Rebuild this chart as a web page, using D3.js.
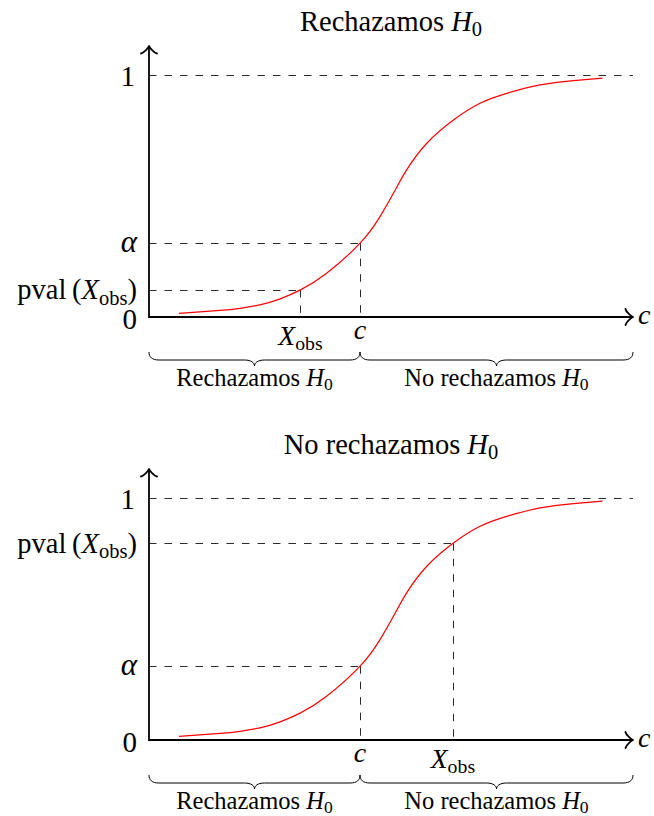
<!DOCTYPE html>
<html>
<head>
<meta charset="utf-8">
<script src="https://cdn.jsdelivr.net/npm/d3@7"></script>
<style>
  body { margin: 0; background: #fff; }
  svg text { font-family: 'Liberation Serif', 'Times New Roman', serif; fill: #000; }
</style>
</head>
<body>
<div id="chart"></div>
<script>
// curve points (x in axis units, y as probability)
const curveX = [0.62, 1.47, 1.88, 2.29, 2.71, 3.13, 3.67, 4.36, 4.77, 5.05, 5.32, 5.74, 6.29, 6.84, 7.39, 8.08, 8.77, 9.37];
const curveY = [0.015, 0.027, 0.036, 0.050, 0.075, 0.112, 0.181, 0.305, 0.414, 0.511, 0.607, 0.718, 0.814, 0.883, 0.924, 0.959, 0.977, 0.987];

const panelTitles = ['Rechazamos', 'No rechazamos'];
const regionLabels = ['Rechazamos', 'No rechazamos'];
const cValue = 4.36;
const alphaValue = 0.305;
const xObsValues = [3.13, 6.28];
const pvalValues = [0.112, 0.813];
const xDomain = [0, 10];
const yDomain = [0, 1];

const width = 654;
const height = 816;
const panelOffset = 423;

const $svg = d3.select('#chart').append('svg')
    .attr('width', width)
    .attr('height', height);

// scales (same for both panels, panels are shifted down)
const scaleX = d3.scaleLinear().domain(xDomain).range([149, 633]);
const scaleY = d3.scaleLinear().domain(yDomain).range([317, 75]);

const points = curveX.map((x, i) => ({ x, y: curveY[i] }));
const line = d3.line()
    .x(d => scaleX(d.x))
    .y(d => scaleY(d.y))
    .curve(d3.curveNatural);

// tikz style "to" arrow tip, drawn pointing along angle (deg)
function arrowTip(tx, ty, angle) {
    const u = 2;
    const a = angle * Math.PI / 180;
    const rot = (px, py) => [tx + px * Math.cos(a) - py * Math.sin(a), ty + px * Math.sin(a) + py * Math.cos(a)];
    const side = s => {
        const p0 = rot(-3.75 * u, s * 4 * u);
        const p1 = rot(-3.5 * u, s * 2.5 * u);
        const p2 = rot(-0.75 * u, s * 0.25 * u);
        return `M${p0}C${p1} ${p2} ${tx},${ty}`;
    };
    return side(-1) + side(1);
}

function brace(x1, x2, y0) {
    const xm = (x1 + x2) / 2;
    const yb = y0 + 8;
    const yc = y0 + 14;
    return `M${x1},${y0}C${x1},${y0 + 5} ${x1 + 3},${yb} ${x1 + 10},${yb}`
        + `L${xm - 10},${yb}C${xm - 3},${yb} ${xm},${yb + 3} ${xm},${yc}`
        + `C${xm},${yb + 3} ${xm + 3},${yb} ${xm + 10},${yb}`
        + `L${x2 - 10},${yb}C${x2 - 3},${yb} ${x2},${y0 + 5} ${x2},${y0}`;
}

// math-ish text: parts of [text, italic, subscript]
function mathText($g, x, y, parts, size, anchor) {
    const $t = $g.append('text')
        .attr('x', x)
        .attr('y', y)
        .attr('font-size', size)
        .attr('text-anchor', anchor || 'middle');
    let shifted = false;
    parts.forEach(([txt, italic, sub]) => {
        const $s = $t.append('tspan').text(txt);
        if (italic) $s.attr('font-style', 'italic');
        if (sub && !shifted) { $s.attr('dy', size * 0.18).attr('font-size', size * 0.72); shifted = true; }
        else if (sub) $s.attr('font-size', size * 0.72);
        else if (shifted) { $s.attr('dy', -size * 0.18); shifted = false; }
    });
    return $t;
}

function drawPanel(i) {
    const $g = $svg.append('g').attr('transform', `translate(0, ${i * panelOffset})`);
    const x0 = scaleX(xDomain[0]);
    const x1 = scaleX(xDomain[1]);
    const y0 = scaleY(0);
    const xObs = xObsValues[i];
    const pval = pvalValues[i];
    const px = v => Math.round(v) + 0.5;

    const dash = $g.append('g')
        .attr('fill', 'none')
        .attr('stroke', '#2a2a2a')
        .attr('stroke-width', 1)
        .attr('stroke-dasharray', '7.5,8');

    dash.append('line').attr('x1', x0).attr('x2', x1).attr('y1', px(scaleY(1))).attr('y2', px(scaleY(1)));
    [[cValue, alphaValue], [xObs, pval]].forEach(([vx, vy]) => {
        dash.append('line').attr('x1', x0).attr('x2', scaleX(vx)).attr('y1', px(scaleY(vy))).attr('y2', px(scaleY(vy)));
        dash.append('line').attr('x1', px(scaleX(vx))).attr('x2', px(scaleX(vx))).attr('y1', scaleY(vy)).attr('y2', y0);
    });

    $g.append('path')
        .datum(points)
        .attr('d', line)
        .attr('fill', 'none')
        .attr('stroke', '#ff0000')
        .attr('stroke-width', 1.2);

    // axes
    const axis = $g.append('g')
        .attr('fill', 'none')
        .attr('stroke', '#000')
        .attr('stroke-width', 1.8);
    axis.append('line').attr('x1', x0).attr('x2', x1).attr('y1', y0).attr('y2', y0);
    axis.append('line').attr('x1', x0).attr('x2', x0).attr('y1', y0 + 0.9).attr('y2', 46);
    axis.append('path').attr('d', arrowTip(x1, y0, 0)).attr('stroke-linecap', 'round');
    axis.append('path').attr('d', arrowTip(x0, 46, -90)).attr('stroke-linecap', 'round');

    // y labels
    const ly = 137;
    mathText($g, ly - 2, scaleY(1) + 11, [['1']], 29, 'end');
    mathText($g, ly, scaleY(0) + 12, [['0']], 29, 'end');
    mathText($g, ly, scaleY(alphaValue) + 9, [['\u03b1', true]], 31, 'end');
    mathText($g, ly, scaleY(pval) + 9.5, [['pval\u2009('], ['X', true], ['obs', false, true], [')']], 28.5, 'end');

    // x labels
    mathText($g, scaleX(cValue), 339, [['c', true]], 28);
    mathText($g, scaleX(xObs), 345, [['X', true], ['obs', false, true]], 27.5);
    mathText($g, x1 + 5, 324, [['c', true]], 28, 'start');

    // title
    mathText($g, (x0 + x1) / 2, 31, [[panelTitles[i] + ' '], ['H', true], ['0', false, true]], 28.5);

    // braces
    const xc = scaleX(cValue);
    const braces = $g.append('g').attr('fill', 'none').attr('stroke', '#000').attr('stroke-width', 1);
    braces.append('path').attr('d', brace(x0, xc, 352));
    braces.append('path').attr('d', brace(xc, x1, 352));
    mathText($g, (x0 + xc) / 2, 386, [[regionLabels[0] + ' '], ['H', true], ['0', false, true]], 24.5);
    mathText($g, (xc + x1) / 2, 386, [[regionLabels[1] + ' '], ['H', true], ['0', false, true]], 24.5);
}

[0, 1].forEach(drawPanel);
</script>
</body>
</html>
